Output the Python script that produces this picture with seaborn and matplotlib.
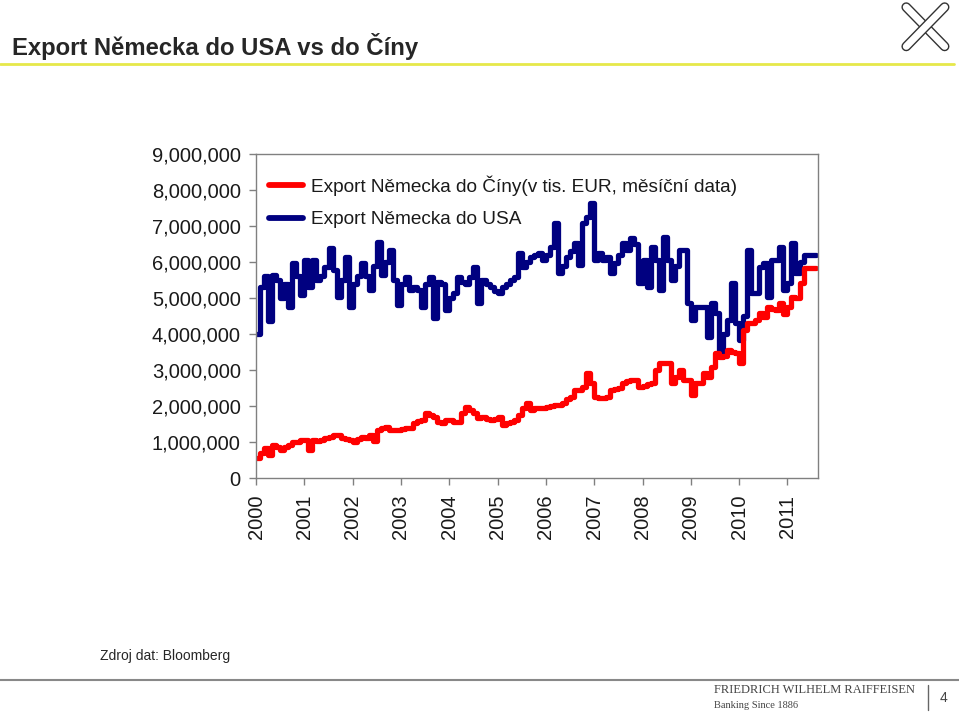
import matplotlib
matplotlib.use("Agg")
import matplotlib.pyplot as plt
import matplotlib.patheffects as pe
from matplotlib.lines import Line2D
from matplotlib.ticker import FuncFormatter
import seaborn as sns
import numpy as np
import pandas as pd

# monthly data Jan 2000 .. Aug 2011, values in mil. (thousands of EUR x 1e3)
years = [str(y) for y in range(2000, 2012)]

export_usa = [
    4.00, 5.30, 5.60, 4.35, 5.64, 5.50, 5.00, 5.40, 4.75, 5.97, 5.60, 5.08,
    6.05, 5.30, 6.05, 5.50, 5.60, 5.86, 6.40, 5.78, 5.03, 5.50, 6.14, 4.75,
    5.40, 5.60, 5.97, 5.60, 5.22, 5.90, 6.56, 5.64, 6.00, 6.33, 5.50, 4.80,
    5.40, 5.58, 5.22, 5.30, 5.22, 4.75, 5.40, 5.58, 4.44, 5.44, 5.40, 4.67,
    5.00, 5.14, 5.58, 5.45, 5.40, 5.58, 5.86, 4.86, 5.50, 5.40, 5.30, 5.20,
    5.14, 5.30, 5.40, 5.50, 5.58, 6.25, 5.86, 6.00, 6.14, 6.20, 6.25, 6.05,
    6.20, 6.42, 7.08, 5.70, 5.90, 6.14, 6.30, 6.53, 5.92, 7.08, 7.25, 7.64,
    6.05, 6.25, 6.05, 6.15, 5.70, 5.97, 6.20, 6.53, 6.33, 6.67, 6.50, 5.42,
    6.05, 5.30, 6.42, 6.05, 5.22, 6.69, 6.05, 5.50, 5.90, 6.33, 6.33, 4.86,
    4.39, 4.75, 4.75, 4.75, 3.92, 4.86, 4.58, 3.42, 4.00, 4.39, 5.42, 4.30,
    3.83, 4.50, 6.33, 5.14, 5.14, 5.86, 5.97, 5.03, 6.05, 6.05, 6.42, 5.22,
    5.42, 6.53, 5.70, 6.00, 6.20, 6.20, 6.20, 6.20,
]

export_cina = [
    0.56, 0.70, 0.83, 0.64, 0.92, 0.85, 0.78, 0.85, 0.92, 1.00, 1.00, 1.05,
    1.05, 0.78, 1.05, 1.02, 1.05, 1.10, 1.14, 1.19, 1.19, 1.10, 1.08, 1.05,
    1.00, 1.08, 1.14, 1.12, 1.19, 1.02, 1.33, 1.38, 1.42, 1.33, 1.33, 1.33,
    1.36, 1.39, 1.39, 1.53, 1.58, 1.61, 1.80, 1.75, 1.70, 1.56, 1.53, 1.61,
    1.61, 1.56, 1.56, 1.80, 1.97, 1.89, 1.80, 1.67, 1.70, 1.65, 1.61, 1.65,
    1.70, 1.47, 1.53, 1.55, 1.61, 1.75, 1.94, 2.08, 1.89, 1.94, 1.94, 1.95,
    1.97, 2.00, 2.03, 2.03, 2.08, 2.20, 2.25, 2.44, 2.44, 2.53, 2.92, 2.64,
    2.25, 2.22, 2.22, 2.25, 2.44, 2.47, 2.50, 2.64, 2.70, 2.72, 2.72, 2.53,
    2.55, 2.60, 2.64, 3.00, 3.19, 3.19, 3.19, 2.64, 2.80, 3.00, 2.72, 2.72,
    2.31, 2.64, 2.64, 2.92, 2.81, 3.08, 3.47, 3.36, 3.40, 3.56, 3.50, 3.47,
    3.19, 4.11, 4.30, 4.30, 4.40, 4.58, 4.47, 4.75, 4.70, 4.67, 4.86, 4.55,
    4.75, 5.03, 5.00, 5.42, 5.83, 5.83, 5.83, 5.83,
]

label_cina = "Export Německa do Číny(v tis. EUR, měsíční data)"
label_usa = "Export Německa do USA"

df = pd.DataFrame({
    "month": np.arange(len(export_usa)),
    "usa": np.array(export_usa) * 1e6,
    "cina": np.array(export_cina) * 1e6,
})

sns.set_style("white")
plt.rcParams["font.family"] = ["Liberation Sans", "DejaVu Sans"]

fig = plt.figure(figsize=(9.59, 7.14), dpi=100)
ax = fig.add_axes([0.267, 0.3305, 0.586, 0.4538])

sns.lineplot(data=df, x="month", y="usa", color="#000080", linewidth=3.8,
             drawstyle="steps-post", ax=ax)
sns.lineplot(data=df, x="month", y="cina", color="#ff0000", linewidth=3.8,
             drawstyle="steps-post", ax=ax)

ax.set_xlim(0, 139.6)
ax.set_ylim(0, 9e6)
ax.set_yticks(np.arange(0, 9.01e6, 1e6))
ax.yaxis.set_major_formatter(FuncFormatter(lambda v, p: f"{v:,.0f}"))
ax.set_xticks(np.arange(0, 12 * len(years), 12))
ax.set_xticklabels(years, rotation=90)
ax.set_xlabel("")
ax.set_ylabel("")
ax.tick_params(axis="both", labelsize=14.5, colors="#808080", labelcolor="#1a1a1a",
               length=5, width=1, direction="out")
ax.tick_params(axis="y", pad=6, left=True)
ax.tick_params(axis="x", pad=7, bottom=True)
for s in ax.spines.values():
    s.set_color("#808080")
    s.set_linewidth(1.0)
    s.set_visible(True)

handles = [Line2D([], [], color="#ff0000", lw=4.2),
           Line2D([], [], color="#000080", lw=4.2)]
leg = ax.legend(handles, [label_cina, label_usa], loc="upper left",
                bbox_to_anchor=(0.0, 0.975), frameon=False, fontsize=13.7,
                handlelength=1.75, handletextpad=0.45, labelspacing=0.8,
                borderaxespad=0.3)
for t in leg.get_texts():
    t.set_color("#1a1a1a")

# header
fig.text(0.0125, 0.935, "Export Německa do USA vs do Číny", fontsize=17.2,
         fontweight="bold", va="center", ha="left")
fig.add_artist(Line2D([0.0, 0.995], [0.910, 0.910], color="#e6e84a", lw=2))

# logo (simplified crossed gables)
logo_lines = [([0.945, 0.985], [0.99, 0.935]), ([0.985, 0.945], [0.99, 0.935])]
for xs, ys in logo_lines:
    fig.add_artist(Line2D(xs, ys, color="white", lw=5,
                          path_effects=[pe.Stroke(linewidth=7, foreground="#333333"),
                                        pe.Normal()]))

# footer
fig.text(0.104, 0.081, "Zdroj dat: Bloomberg", fontsize=10, va="center")
fig.add_artist(Line2D([0.0, 1.0], [0.047, 0.047], color="#888888", lw=1.5))
fig.text(0.745, 0.033, "FRIEDRICH WILHELM RAIFFEISEN", fontsize=9,
         family="Liberation Serif", color="#444444", va="center")
fig.text(0.745, 0.012, "Banking Since 1886", fontsize=7.5,
         family="Liberation Serif", color="#444444", va="center")
fig.add_artist(Line2D([0.968, 0.968], [0.005, 0.04], color="#666666", lw=1))
fig.text(0.98, 0.023, "4", fontsize=10, color="#444444", va="center")

fig.savefig("out.png", dpi=100)
